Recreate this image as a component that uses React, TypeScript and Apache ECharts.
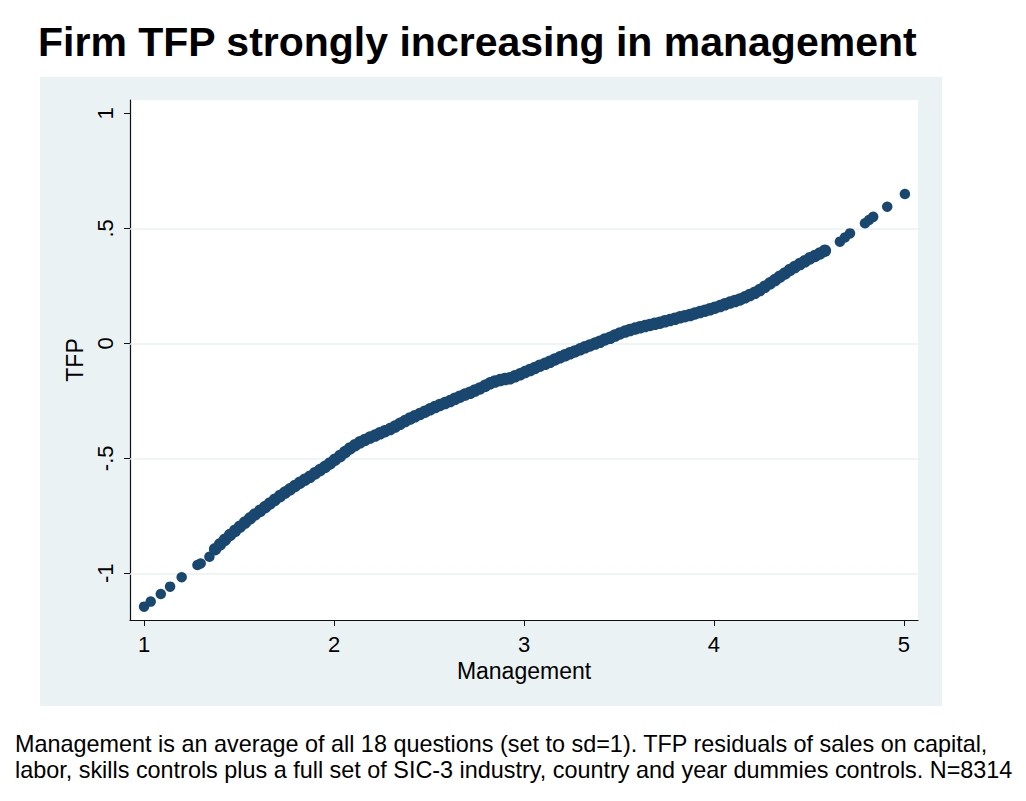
import React, { useEffect, useRef } from "react";
import * as echarts from "echarts";

const TITLE = "Firm TFP strongly increasing in management";
const NOTE_LINES = [
  "Management is an average of all 18 questions (set to sd=1). TFP residuals of sales on capital,",
  "labor, skills controls plus a full set of SIC-3 industry, country and year dummies controls. N=8314",
];
const X_NAME = "Management";
const Y_NAME = "TFP";
const xTicks = [1, 2, 3, 4, 5];
const yTicks = [-1, -0.5, 0, 0.5, 1];
const yGridValues = [-1, -0.5, 0, 0.5];

// sparse dots at the low end
const lowTailMgmt = [1.0, 1.035, 1.088, 1.137, 1.198, 1.281, 1.298, 1.344];
const lowTailTfp = [-1.145, -1.123, -1.09, -1.058, -1.017, -0.964, -0.957, -0.928];

// dense band of overlapping dots
const bandMgmt = [
  1.374, 1.4, 1.426, 1.453, 1.479, 1.505, 1.532, 1.558, 1.584, 1.611,
  1.637, 1.663, 1.689, 1.716, 1.742, 1.768, 1.795, 1.821, 1.847, 1.874,
  1.9, 1.926, 1.953, 1.979, 2.005, 2.032, 2.058, 2.084, 2.111, 2.137,
  2.163, 2.189, 2.216, 2.242, 2.268, 2.295, 2.321, 2.347, 2.374, 2.4,
  2.426, 2.453, 2.479, 2.505, 2.532, 2.558, 2.584, 2.611, 2.637, 2.663,
  2.689, 2.716, 2.742, 2.768, 2.795, 2.821, 2.847, 2.874, 2.9, 2.926,
  2.953, 2.979, 3.005, 3.032, 3.058, 3.084, 3.111, 3.137, 3.163, 3.189,
  3.216, 3.242, 3.268, 3.295, 3.321, 3.347, 3.374, 3.4, 3.426, 3.453,
  3.479, 3.505, 3.532, 3.558, 3.584, 3.611, 3.637, 3.663, 3.689, 3.716,
  3.742, 3.768, 3.795, 3.821, 3.847, 3.874, 3.9, 3.926, 3.953, 3.979,
  4.005, 4.032, 4.058, 4.084, 4.111, 4.137, 4.163, 4.189, 4.216, 4.242,
  4.268, 4.295, 4.321, 4.347, 4.374, 4.4, 4.426, 4.453, 4.479, 4.505,
  4.532, 4.558, 4.584,
];
const bandTfp = [
  -0.895, -0.874, -0.854, -0.833, -0.815, -0.797, -0.779, -0.761, -0.744, -0.728,
  -0.712, -0.696, -0.68, -0.664, -0.649, -0.635, -0.62, -0.606, -0.593, -0.58,
  -0.565, -0.551, -0.537, -0.522, -0.506, -0.49, -0.473, -0.457, -0.443, -0.43,
  -0.42, -0.41, -0.401, -0.391, -0.382, -0.373, -0.362, -0.35, -0.338, -0.327,
  -0.317, -0.307, -0.297, -0.287, -0.277, -0.268, -0.26, -0.251, -0.241, -0.232,
  -0.223, -0.215, -0.205, -0.196, -0.185, -0.174, -0.166, -0.16, -0.155, -0.152,
  -0.143, -0.135, -0.125, -0.116, -0.107, -0.097, -0.089, -0.08, -0.07, -0.061,
  -0.052, -0.043, -0.035, -0.026, -0.017, -0.009, -0.001, 0.007, 0.017, 0.024,
  0.034, 0.043, 0.051, 0.058, 0.064, 0.07, 0.075, 0.08, 0.085, 0.09,
  0.096, 0.101, 0.107, 0.113, 0.118, 0.123, 0.13, 0.136, 0.142, 0.148,
  0.155, 0.162, 0.17, 0.177, 0.184, 0.191, 0.2, 0.21, 0.22, 0.232,
  0.246, 0.261, 0.275, 0.29, 0.304, 0.319, 0.332, 0.345, 0.357, 0.37,
  0.38, 0.391, 0.403,
];

// sparse dots at the high end
const highTailMgmt = [4.663, 4.689, 4.716, 4.795, 4.816, 4.838, 4.912, 5.005];
const highTailTfp = [0.442, 0.46, 0.478, 0.522, 0.536, 0.55, 0.594, 0.649];

const FONT = '"Liberation Sans", Arial, Helvetica, sans-serif';
const NAVY = "#1a476f";
const PANEL = "#eaf2f3";

const fmtY = (v: number) => (v === 0 ? "0" : String(v).replace("0.", "."));

const zip = (xs: number[], ys: number[]) => {
  const out: number[][] = [];
  const n = Math.min(xs.length, ys.length);
  for (let i = 0; i < n; i++) out.push([xs[i], ys[i]]);
  return out;
};

export default function App() {
  const ref = useRef<HTMLDivElement>(null);

  useEffect(() => {
    if (!ref.current) return;
    const chart = echarts.init(ref.current, null, { renderer: "svg" });

    const dotSeries = (data: number[][], size: number) => ({
      type: "scatter",
      z: 3,
      data,
      symbol: "circle",
      symbolSize: size,
      itemStyle: { color: NAVY, opacity: 1 },
    });

    chart.setOption({
      animation: false,
      backgroundColor: "#ffffff",
      textStyle: { fontFamily: FONT },
      graphic: [
        {
          type: "rect",
          z: -10,
          silent: true,
          shape: { x: 40, y: 77, width: 902, height: 629 },
          style: { fill: PANEL },
        },
        {
          type: "text",
          left: 38,
          top: 21,
          style: { text: TITLE, font: `bold 41px ${FONT}`, fill: "#000" },
        },
        {
          type: "text",
          left: 15,
          top: 731.5,
          style: {
            text: NOTE_LINES.join("\n"),
            font: `23.4px ${FONT}`,
            lineHeight: 25.5,
            fill: "#000",
          },
        },
      ],
      grid: {
        left: 130,
        top: 100,
        right: 108,
        bottom: 181,
        show: true,
        backgroundColor: "#ffffff",
        borderWidth: 0,
      },
      xAxis: {
        type: "value",
        min: 0.926,
        max: 5.074,
        name: X_NAME,
        nameLocation: "middle",
        nameGap: 34,
        nameTextStyle: { fontSize: 23, color: "#000", fontFamily: FONT },
        axisLine: { show: true, onZero: false, lineStyle: { color: "#111", width: 1.2 } },
        axisTick: { show: true, length: 6, customValues: xTicks, lineStyle: { color: "#111" } },
        axisLabel: { customValues: xTicks, fontSize: 22, color: "#000", margin: 13, fontFamily: FONT },
        splitLine: { show: false },
      },
      yAxis: {
        type: "value",
        min: -1.203,
        max: 1.058,
        name: Y_NAME,
        nameLocation: "middle",
        nameGap: 38,
        nameTextStyle: { fontSize: 23, color: "#000", fontFamily: FONT },
        axisLine: { show: true, onZero: false, lineStyle: { color: "#111", width: 1.2 } },
        axisTick: { show: true, length: 6, customValues: yTicks, lineStyle: { color: "#111" } },
        axisLabel: {
          customValues: yTicks,
          rotate: 90,
          fontSize: 22,
          color: "#000",
          margin: 14,
          fontFamily: FONT,
          formatter: (v: number) => fmtY(v),
        },
        splitLine: { show: false },
      },
      series: [
        {
          type: "scatter",
          data: [],
          silent: true,
          markLine: {
            silent: true,
            z: 1,
            symbol: "none",
            label: { show: false },
            lineStyle: { color: PANEL, width: 1.5, type: "solid" },
            data: yGridValues.map((v) => ({ yAxis: v })),
          },
        },
        dotSeries(zip(lowTailMgmt, lowTailTfp), 10.5),
        dotSeries(zip(bandMgmt, bandTfp), 12.5),
        dotSeries(zip(highTailMgmt, highTailTfp), 10.5),
      ],
    });
    return () => chart.dispose();
  }, []);

  return (
    <div
      ref={ref}
      style={{ position: "absolute", left: 0, top: 0, width: 1026, height: 801 }}
    />
  );
}
